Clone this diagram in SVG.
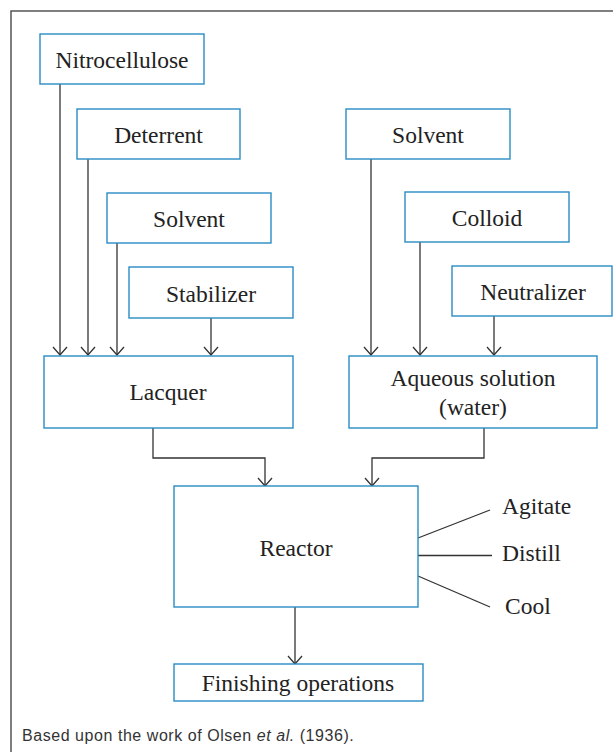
<svg xmlns="http://www.w3.org/2000/svg" width="613" height="752" viewBox="0 0 613 752">
<defs>
<marker id="arr" viewBox="0 0 10 16" refX="9" refY="8" markerWidth="10" markerHeight="16" markerUnits="userSpaceOnUse" orient="auto">
<path d="M1,1 L9,8 L1,15" fill="none" stroke="#333" stroke-width="1.3"/>
</marker>
<style>
.box{fill:#fff;stroke:#2a8cc4;stroke-width:1.4}
.t{font-family:"Liberation Serif","Times New Roman",serif;font-size:23.5px;fill:#222;text-anchor:middle}
.l{font-family:"Liberation Serif","Times New Roman",serif;font-size:23.5px;fill:#222}
.c{fill:none;stroke:#333;stroke-width:1.3}
.a{fill:none;stroke:#333;stroke-width:1.3;marker-end:url(#arr)}
</style>
</defs>
<rect x="0" y="0" width="613" height="752" fill="#fff"/>
<rect x="11" y="11" width="620" height="760" fill="none" stroke="#555" stroke-width="1.5"/>
<g id="connectors">
<line class="a" x1="60" y1="84" x2="60" y2="355"/>
<line class="a" x1="88" y1="159" x2="88" y2="355"/>
<line class="a" x1="117" y1="243" x2="117" y2="355"/>
<line class="a" x1="211" y1="318" x2="211" y2="355"/>
<line class="a" x1="371" y1="159" x2="371" y2="355"/>
<line class="a" x1="420" y1="242" x2="420" y2="355"/>
<line class="a" x1="494" y1="316" x2="494" y2="355"/>
<polyline class="a" points="153,428 153,458 265,458 265,486"/>
<polyline class="a" points="484,428 484,458 372,458 372,486"/>
<line class="a" x1="295" y1="607" x2="295" y2="664"/>
<line class="c" x1="418" y1="538" x2="490" y2="510"/>
<line class="c" x1="418" y1="555.5" x2="492" y2="555.5"/>
<line class="c" x1="418" y1="576" x2="490" y2="607"/>
</g>
<g id="nitrocellulose"><rect class="box" x="40" y="34" width="164" height="50"/><text class="t" x="122" y="68">Nitrocellulose</text></g>
<g id="deterrent"><rect class="box" x="77" y="109" width="163" height="50"/><text class="t" x="158.5" y="143">Deterrent</text></g>
<g id="solvent1"><rect class="box" x="107" y="193" width="164" height="50"/><text class="t" x="189" y="227">Solvent</text></g>
<g id="stabilizer"><rect class="box" x="129" y="267" width="164" height="51"/><text class="t" x="211" y="302">Stabilizer</text></g>
<g id="lacquer"><rect class="box" x="44" y="356" width="249" height="72"/><text class="t" x="168" y="400">Lacquer</text></g>
<g id="solvent2"><rect class="box" x="346" y="109" width="164" height="50"/><text class="t" x="428" y="143">Solvent</text></g>
<g id="colloid"><rect class="box" x="405" y="192" width="164" height="50"/><text class="t" x="487" y="226">Colloid</text></g>
<g id="neutralizer"><rect class="box" x="452" y="266" width="160" height="50"/><text class="t" x="533" y="300">Neutralizer</text></g>
<g id="aqueous"><rect class="box" x="349" y="356" width="248" height="72"/><text class="t" x="473" y="386">Aqueous solution</text><text class="t" x="473" y="415">(water)</text></g>
<g id="reactor"><rect class="box" x="174" y="486" width="244" height="121"/><text class="t" x="296" y="556">Reactor</text></g>
<g id="finishing"><rect class="box" x="174" y="664" width="249" height="37"/><text class="t" x="298" y="691">Finishing operations</text></g>
<g id="labels">
<text class="l" x="502" y="514">Agitate</text>
<text class="l" x="502" y="561">Distill</text>
<text class="l" x="505" y="614">Cool</text>
</g>
<text x="22" y="741" style="font-family:'Liberation Sans',Arial,sans-serif;font-size:16px;letter-spacing:0.55px;fill:#333">Based upon the work of Olsen <tspan font-style="italic">et al.</tspan> (1936).</text>
</svg>
